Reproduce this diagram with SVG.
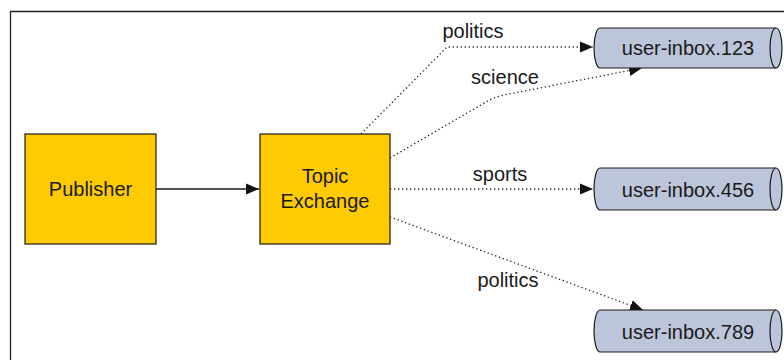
<svg xmlns="http://www.w3.org/2000/svg" width="784" height="360" viewBox="0 0 784 360">
<style>
text{font-family:"Liberation Sans",Arial,sans-serif;font-size:20px;fill:#1a1a1a;text-anchor:middle}
.box{fill:#fecb00;stroke:#1a1a1a;stroke-width:1.2}
.cyl{fill:#bcc5d9;stroke:#1a1a1a;stroke-width:1.2}
.solid{fill:none;stroke:#1a1a1a;stroke-width:1.3}
.dot{fill:none;stroke:#222;stroke-width:1.3;stroke-dasharray:1.3 2.7}
</style>
<defs>
<marker id="ah" markerUnits="userSpaceOnUse" markerWidth="14" markerHeight="12" refX="13" refY="6" orient="auto" viewBox="0 0 14 12">
<path d="M0,0.5 L13,6 L0,11.5 Z" fill="#111"/>
</marker>
</defs>
<g id="frame">
<path d="M10.5,360 V11.5 H784" fill="none" stroke="#222" stroke-width="1.3"/>
</g>
<g id="connectors">
<path class="solid" d="M156,189 H259" marker-end="url(#ah)"/>
<path class="dot" d="M361,134 L447,47 H593" marker-end="url(#ah)"/>
<path class="dot" d="M390,158 L486,102 Q494,97 504,95 L642,68" marker-end="url(#ah)"/>
<path class="dot" d="M390,189 H593" marker-end="url(#ah)"/>
<path class="dot" d="M390,217 L643,310" marker-end="url(#ah)"/>
<text x="473" y="38">politics</text>
<text x="505" y="84">science</text>
<text x="500" y="181">sports</text>
<text x="508" y="287">politics</text>
</g>
<g id="publisher">
<rect class="box" x="25" y="134" width="131" height="110"/>
<text x="90.5" y="196">Publisher</text>
</g>
<g id="topic-exchange">
<rect class="box" x="260" y="134" width="130" height="110"/>
<text x="325" y="183">Topic</text>
<text x="325" y="208">Exchange</text>
</g>
<g id="user-inbox-123">
<path class="cyl" d="M600,28 H776 A6,20 0 0 1 776,68 H600 A6,20 0 0 1 600,28 Z"/>
<path class="cyl" d="M776,28 A6,20 0 0 0 776,68" fill="none"/>
<text x="688" y="55">user-inbox.123</text>
</g>
<g id="user-inbox-456">
<path class="cyl" d="M600,168 H776 A6,21 0 0 1 776,210 H600 A6,21 0 0 1 600,168 Z"/>
<path class="cyl" d="M776,168 A6,21 0 0 0 776,210" fill="none"/>
<text x="688" y="197">user-inbox.456</text>
</g>
<g id="user-inbox-789">
<path class="cyl" d="M600,310 H776 A6,21 0 0 1 776,352 H600 A6,21 0 0 1 600,310 Z"/>
<path class="cyl" d="M776,310 A6,21 0 0 0 776,352" fill="none"/>
<text x="688" y="339">user-inbox.789</text>
</g>
</svg>
